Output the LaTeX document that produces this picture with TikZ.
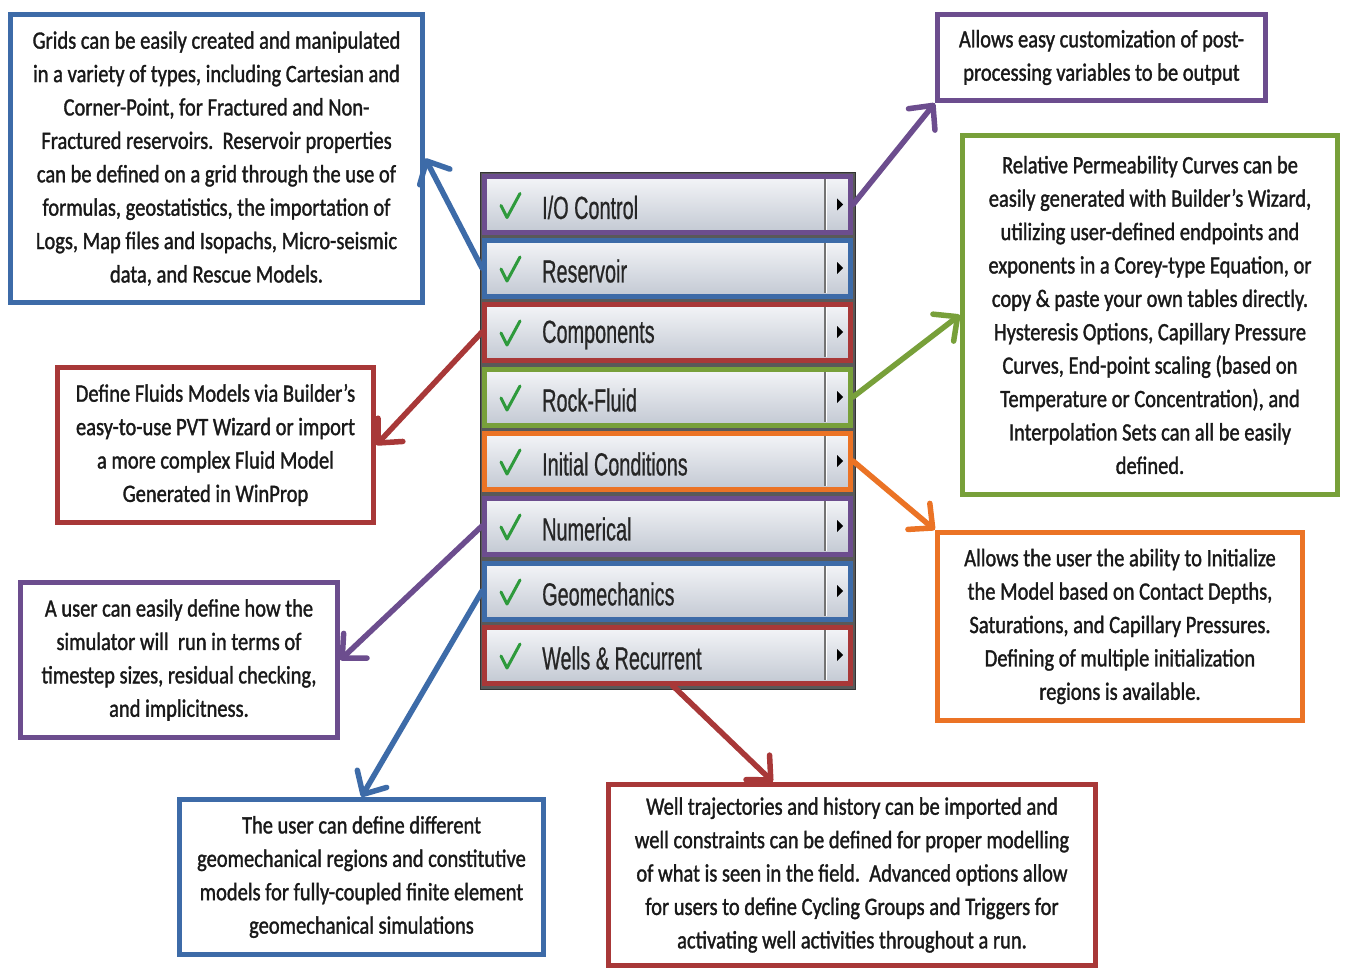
\documentclass[tikz,border=0pt]{standalone}
\usepackage{fontspec}
\setmainfont{Carlito}
\newfontfamily\boxfont[FakeStretch=0.82,FakeBold=1.3]{Carlito}
\newfontfamily\menufont[FakeStretch=0.62,FakeBold=0.6]{Liberation Sans}
\usetikzlibrary{arrows.meta,calc}
\definecolor{cblue}{HTML}{3D6BA8}
\definecolor{cred}{HTML}{A83838}
\definecolor{cpurple}{HTML}{6C4D8E}
\definecolor{cgreen}{HTML}{78A03A}
\definecolor{corange}{HTML}{EB7325}
\definecolor{ccheck}{HTML}{2E9A3C}
\definecolor{btop}{HTML}{F4F5F8}
\definecolor{bbot}{HTML}{C3C9D3}
\begin{document}
\begin{tikzpicture}[x=1pt,y=-1pt,
  box/.style={draw=#1, line width=5.5pt, fill=white, align=center,
    font=\boxfont\fontsize{25}{33.4}\selectfont, inner sep=0pt, text=black!90},
  row/.style={draw=#1, line width=5pt, top color=btop, bottom color=bbot,
    minimum width=366pt, minimum height=56pt, inner sep=0pt},
  menutext/.style={anchor=west, font=\menufont\fontsize{32}{36}\selectfont, text=black!85, inner sep=0pt},
  arr/.style={draw=#1, line width=5.5pt, line cap=round,
    -{Straight Barb[length=18pt,width=34pt,round]}},
  chk/.style={draw=ccheck, line width=3pt, line cap=round, line join=round},
  tri/.style={fill=black}
]
\useasboundingbox (0,0) rectangle (1345,971);
\fill[white] (0,0) rectangle (1345,971);

% boxes
\node[box=cblue, minimum width=412pt, minimum height=288pt] (b1) at (216.5,158.5)
 {Grids can be easily created and manipulated\\in a variety of types, including Cartesian and\\Corner-Point, for Fractured and Non-\\Fractured reservoirs.\ \ Reservoir properties\\can be defined on a grid through the use of\\formulas, geostatistics, the importation of\\Logs, Map files and Isopachs, Micro-seismic\\data, and Rescue Models.};
\node[box=cred, minimum width=316pt, minimum height=155pt] (b2) at (215.5,445)
 {Define Fluids Models via Builder’s\\easy-to-use PVT Wizard or import\\a more complex Fluid Model\\Generated in WinProp};
\node[box=cpurple, minimum width=317pt, minimum height=155pt] (b3) at (179,660)
 {A user can easily define how the\\simulator will\ \ run in terms of\\timestep sizes, residual checking,\\and implicitness.};
\node[box=cblue, minimum width=364pt, minimum height=155pt] (b4) at (361.5,877)
 {The user can define different\\geomechanical regions and constitutive\\models for fully-coupled finite element\\geomechanical simulations};
\node[box=cred, minimum width=487pt, minimum height=181pt] (b5) at (852,875)
 {Well trajectories and history can be imported and\\well constraints can be defined for proper modelling\\of what is seen in the field.\ \ Advanced options allow\\for users to define Cycling Groups and Triggers for\\activating well activities throughout a run.};
\node[box=corange, minimum width=365pt, minimum height=188pt] (b6) at (1120,626.5)
 {Allows the user the ability to Initialize\\the Model based on Contact Depths,\\Saturations, and Capillary Pressures.\\Defining of multiple initialization\\regions is available.};
\node[box=cgreen, minimum width=375pt, minimum height=359pt] (b7) at (1150,315)
 {Relative Permeability Curves can be\\easily generated with Builder’s Wizard,\\utilizing user-defined endpoints and\\exponents in a Corey-type Equation, or\\copy \& paste your own tables directly.\\Hysteresis Options, Capillary Pressure\\Curves, End-point scaling (based on\\Temperature or Concentration), and\\Interpolation Sets can all be easily\\defined.};
\node[box=cpurple, minimum width=328pt, minimum height=86pt] (b8) at (1101.5,57.5)
 {Allows easy customization of post-\\processing variables to be output};

% menu frame
\node[draw=black!80, fill=black!65, line width=1.5pt, minimum width=375pt, minimum height=517pt, inner sep=0pt] (frame) at (668,431) {};

% rows
\node[row=cpurple] (r1) at (667.5,204.5) {};
\node[row=cblue]   (r2) at (667.5,268) {};
\node[row=cred]    (r3) at (667.5,332) {};
\node[row=cgreen]  (r4) at (667.5,397) {};
\node[row=corange] (r5) at (667.5,461) {};
\node[row=cpurple] (r6) at (667.5,526) {};
\node[row=cblue]   (r7) at (667.5,591) {};
\node[row=cred]    (r8) at (667.5,655) {};

\foreach \r/\t in {r1/{I/O Control}, r2/Reservoir, r3/Components, r4/Rock-Fluid, r5/Initial Conditions, r6/Numerical, r7/Geomechanics, r8/Wells \& Recurrent}{
  \node[menutext] (\r t) at ($(\r.west)+(60,3)$) {\t};
  \draw[chk] ($(\r.west)+(19,1)$) -- ($(\r.west)+(25,13)$) -- ($(\r.west)+(38,-11)$);
  \draw[black!55, line width=1.2pt] ($(\r.east)+(-28,-25)$) -- ($(\r.east)+(-28,25)$);
  \draw[white, line width=1pt] ($(\r.east)+(-26.5,-25)$) -- ($(\r.east)+(-26.5,25)$);
  \fill[tri] ($(\r.east)+(-16,-6)$) -- ($(\r.east)+(-10,0)$) -- ($(\r.east)+(-16,6)$) -- cycle;
}

% arrows
\draw[arr=cblue]   (r2.west) -- (b1.east);
\draw[arr=cpurple] (r1.east) -- (b8.south west);
\draw[arr=cgreen]  (r4.east) -- (b7.west);
\draw[arr=corange] (r5.east) -- (b6.north west);
\draw[arr=cred]    (r3.west) -- (b2.east);
\draw[arr=cpurple] (r6.west) -- (b3.east);
\draw[arr=cblue]   (r7.west) -- (b4.north);
\draw[arr=cred]    ([xshift=5pt]r8.south) -- ([xshift=167pt]b5.north west);
\end{tikzpicture}
\end{document}
